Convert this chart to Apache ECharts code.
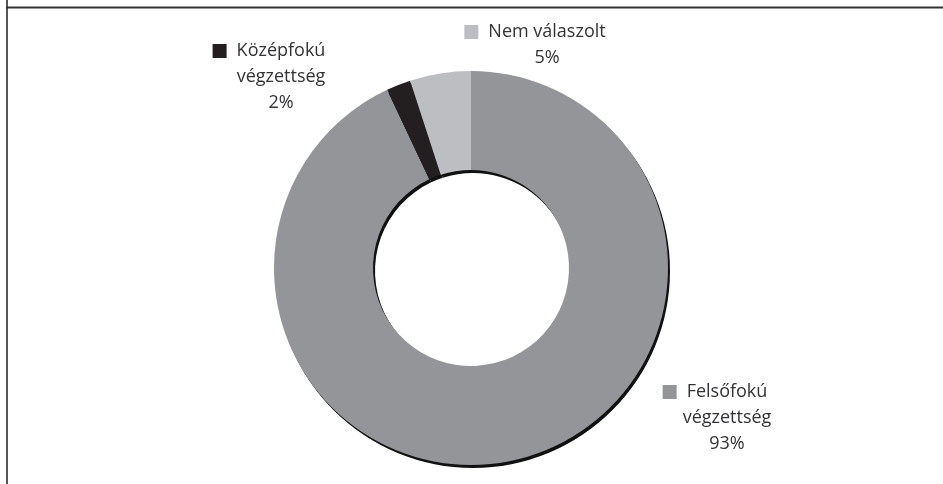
<!DOCTYPE html>
<html>
<head>
<meta charset="utf-8">
<script src="https://cdn.jsdelivr.net/npm/echarts@6/dist/echarts.min.js"></script>
<style>
  html, body { margin: 0; padding: 0; background: #fff; }
  #main { width: 943px; height: 484px; }
</style>
</head>
<body>
<div id="main"></div>
<script>
// pie slices, clockwise from 12 o'clock
var categories = ["Felsőfokú\nvégzettség", "Középfokú\nvégzettség", "Nem válaszolt"];
var values = [93, 2, 5];
var colors = ["#939598", "#231f20", "#bdbec1"];

// where each label block sits (x = centre of text lines, y = top)
var labelSpots = [
    {x: 727, y: 379},
    {x: 281, y: 38},
    {x: 547, y: 19}
];

var chart = echarts.init(document.getElementById("main"));

var data = categories.map(function (name, i) {
    return {name: name, value: values[i], itemStyle: {color: colors[i]}};
});
// same slices, dark, pushed down-right: the drop edge under the ring
var shadowData = categories.map(function (name, i) {
    return {name: name, value: values[i]};
});

function labelText(params) {
    var lines = params.name.split("\n");
    var key = "m" + params.dataIndex;
    var out = "{" + key + "|}{g|}{t|" + lines[0] + "}{s|}";
    for (var i = 1; i < lines.length; i++) {
        out += "\n{t|" + lines[i] + "}";
    }
    out += "\n{t|" + params.value + "%}";
    return out;
}

var rich = {
    t: {fontFamily: "Open Sans", fontSize: 18, color: "#333335", lineHeight: 26},
    g: {width: 10},
    s: {width: 24}
};
colors.forEach(function (c, i) {
    rich["m" + i] = {width: 14, height: 14, backgroundColor: c};
});

chart.setOption({
    animation: false,
    backgroundColor: "#fff",
    graphic: [
        {type: "line", shape: {x1: 7, y1: 0, x2: 7, y2: 484}, style: {stroke: "#555", lineWidth: 2}},
        {type: "line", shape: {x1: 6, y1: 7.5, x2: 943, y2: 7.5}, style: {stroke: "#333", lineWidth: 2}}
    ],
    series: [{
        type: "pie",
        z: 1,
        center: [473, 271],
        radius: [98, 197],
        startAngle: 90,
        silent: true,
        itemStyle: {color: "#111", borderWidth: 0},
        label: {show: false},
        labelLine: {show: false},
        data: shadowData
    }, {
        type: "pie",
        z: 2,
        center: [471, 268],
        radius: [98, 197],
        startAngle: 90,
        clockwise: true,
        silent: true,
        itemStyle: {borderWidth: 0},
        label: {
            show: true,
            formatter: labelText,
            rich: rich,
            align: "center"
        },
        labelLine: {show: false},
        labelLayout: function (params) {
            var p = labelSpots[params.dataIndex];
            return {x: p.x, y: p.y, align: "center", verticalAlign: "top"};
        },
        data: data
    }]
});
</script>
</body>
</html>
